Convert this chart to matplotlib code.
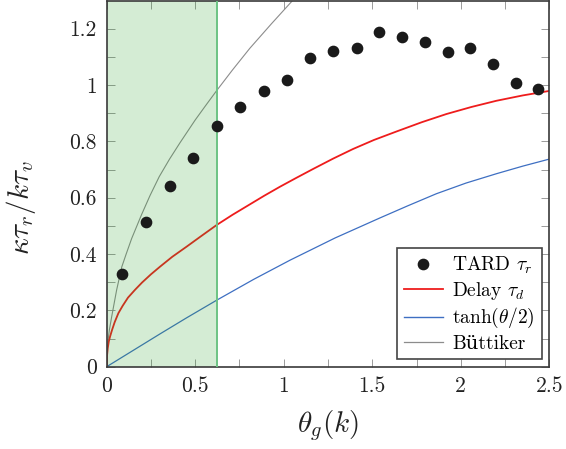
import matplotlib
matplotlib.use("Agg")
import matplotlib.pyplot as plt
from matplotlib.lines import Line2D
from matplotlib.ticker import FixedLocator, NullFormatter

plt.rcParams["mathtext.fontset"] = "cm"
plt.rcParams["font.family"] = ["cmr10", "DejaVu Serif"]
plt.rcParams["axes.unicode_minus"] = False

# TARD relaxation times (scatter)
tard_theta = [0.088, 0.222, 0.357, 0.489, 0.621, 0.754, 0.886, 1.016, 1.149, 1.279,
              1.411, 1.538, 1.668, 1.796, 1.926, 2.054, 2.182, 2.310, 2.436]
tard_tau = [0.328, 0.513, 0.643, 0.741, 0.853, 0.922, 0.978, 1.018, 1.095, 1.119,
            1.132, 1.188, 1.172, 1.153, 1.118, 1.131, 1.076, 1.007, 0.987]

# Delay time curve
delay_theta = [0, 0.002, 0.006, 0.012, 0.019, 0.03, 0.045, 0.066, 0.09, 0.12, 0.16,
               0.2, 0.25, 0.301, 0.37, 0.451, 0.53, 0.621, 0.71, 0.80, 0.89, 0.979,
               1.07, 1.166, 1.28, 1.392, 1.51, 1.637, 1.78, 1.919, 2.06, 2.201, 2.35, 2.5]
delay_tau = [0, 0.04, 0.066, 0.09, 0.107, 0.13, 0.158, 0.19, 0.216, 0.245, 0.273,
             0.299, 0.328, 0.355, 0.390, 0.426, 0.462, 0.503, 0.539, 0.573, 0.607, 0.639,
             0.670, 0.702, 0.739, 0.773, 0.805, 0.835, 0.868, 0.897, 0.922, 0.944, 0.963, 0.979]

# tanh(theta/2) curve
tanh_theta = [0, 0.15, 0.3, 0.45, 0.621, 0.83, 1.035, 1.29, 1.543, 1.70, 1.862,
              2.03, 2.201, 2.35, 2.5]
tanh_tau = [0, 0.058, 0.116, 0.173, 0.236, 0.310, 0.378, 0.457, 0.528, 0.571, 0.614,
            0.652, 0.685, 0.712, 0.737]

# Buttiker traversal time
butt_theta = [0, 0.0005, 0.001, 0.003, 0.008, 0.015, 0.028, 0.056, 0.085, 0.11, 0.141,
              0.197, 0.245, 0.297, 0.355, 0.414, 0.499, 0.56, 0.621, 0.71, 0.808, 0.93, 1.05]
butt_tau = [0, 0.025, 0.035, 0.059, 0.095, 0.13, 0.177, 0.272, 0.354, 0.40, 0.455,
            0.54, 0.608, 0.675, 0.737, 0.795, 0.875, 0.928, 0.98, 1.053, 1.13, 1.217, 1.30]

shade_end = 0.624

x_major = [0, 0.5, 1, 1.5, 2, 2.5]
x_labels = ["0", "0.5", "1", "1.5", "2", "2.5"]
x_minor = [0.25, 0.75, 1.25, 1.75, 2.25]
y_major = [0, 0.2, 0.4, 0.6, 0.8, 1.0, 1.2]
y_labels = ["0", "0.2", "0.4", "0.6", "0.8", "1", "1.2"]
y_minor = [0.1, 0.3, 0.5, 0.7, 0.9, 1.1]

RED = "#ee1c1c"
BLUE = "#3e6fc2"
GRAY = "#8c8c8c"
SPINE = "#3a3a3a"

fig = plt.figure(figsize=(5.66, 4.49), dpi=100)
ax = fig.add_axes([106.7 / 566, 82.3 / 449, (549.3 - 106.7) / 566, (449 - 82.3 - 0.5) / 449])

ax.plot(butt_theta, butt_tau, color=GRAY, lw=0.8, zorder=2)
ax.plot(tanh_theta, tanh_tau, color=BLUE, lw=0.9, zorder=2)
ax.plot(delay_theta, delay_tau, color=RED, lw=1.3, zorder=2)

ax.axvspan(0, shade_end, facecolor="#2ca02c", alpha=0.2, lw=0, zorder=2.5)
ax.axvline(shade_end, color="#6cc383", lw=1.4, zorder=2.6)

ax.plot(tard_theta, tard_tau, "o", color="#1a1a1a", ms=7.4, zorder=3)

ax.set_xlim(0, 2.5)
ax.set_ylim(0, 1.3)

ax.xaxis.set_major_locator(FixedLocator(x_major))
ax.set_xticklabels(x_labels)
ax.xaxis.set_minor_locator(FixedLocator(x_minor))
ax.yaxis.set_major_locator(FixedLocator(y_major))
ax.set_yticklabels(y_labels)
ax.yaxis.set_minor_locator(FixedLocator(y_minor))
ax.xaxis.set_minor_formatter(NullFormatter())
ax.yaxis.set_minor_formatter(NullFormatter())

for which in ("major", "minor"):
    ax.tick_params(axis="both", which=which, direction="in", length=5.5, width=0.7,
                   color="#9a9a9a", top=True, right=True, labelsize=15.5, pad=7)
for lab in ax.get_xticklabels() + ax.get_yticklabels():
    lab.set_color("#222222")

for s in ax.spines.values():
    s.set_color(SPINE)
    s.set_linewidth(1.2)

ax.set_xlabel(r"$\theta_g(k)$", fontsize=21, labelpad=9, color="#222222")
ax.set_ylabel(r"$\kappa\tau_r/k\tau_v$", fontsize=21, color="#222222")
ax.yaxis.set_label_coords(-0.155, 0.435)

handles = [
    Line2D([], [], ls="none", marker="o", color="#1a1a1a", ms=7.4),
    Line2D([], [], color=RED, lw=1.3),
    Line2D([], [], color=BLUE, lw=1.0),
    Line2D([], [], color=GRAY, lw=0.9),
]
labels = [r"TARD $\tau_r$", r"Delay $\tau_d$", r"tanh$(\theta/2)$", "Büttiker"]
leg = ax.legend(handles, labels, loc="lower right", bbox_to_anchor=(0.983, 0.02),
                fontsize=14, frameon=True, fancybox=False, framealpha=1,
                edgecolor="#444444", handlelength=2.0, handletextpad=0.5,
                labelspacing=0.22, borderpad=0.35, borderaxespad=0)
leg.get_frame().set_linewidth(1.2)
leg.set_zorder(5)

fig.savefig("out.png", dpi=100)
